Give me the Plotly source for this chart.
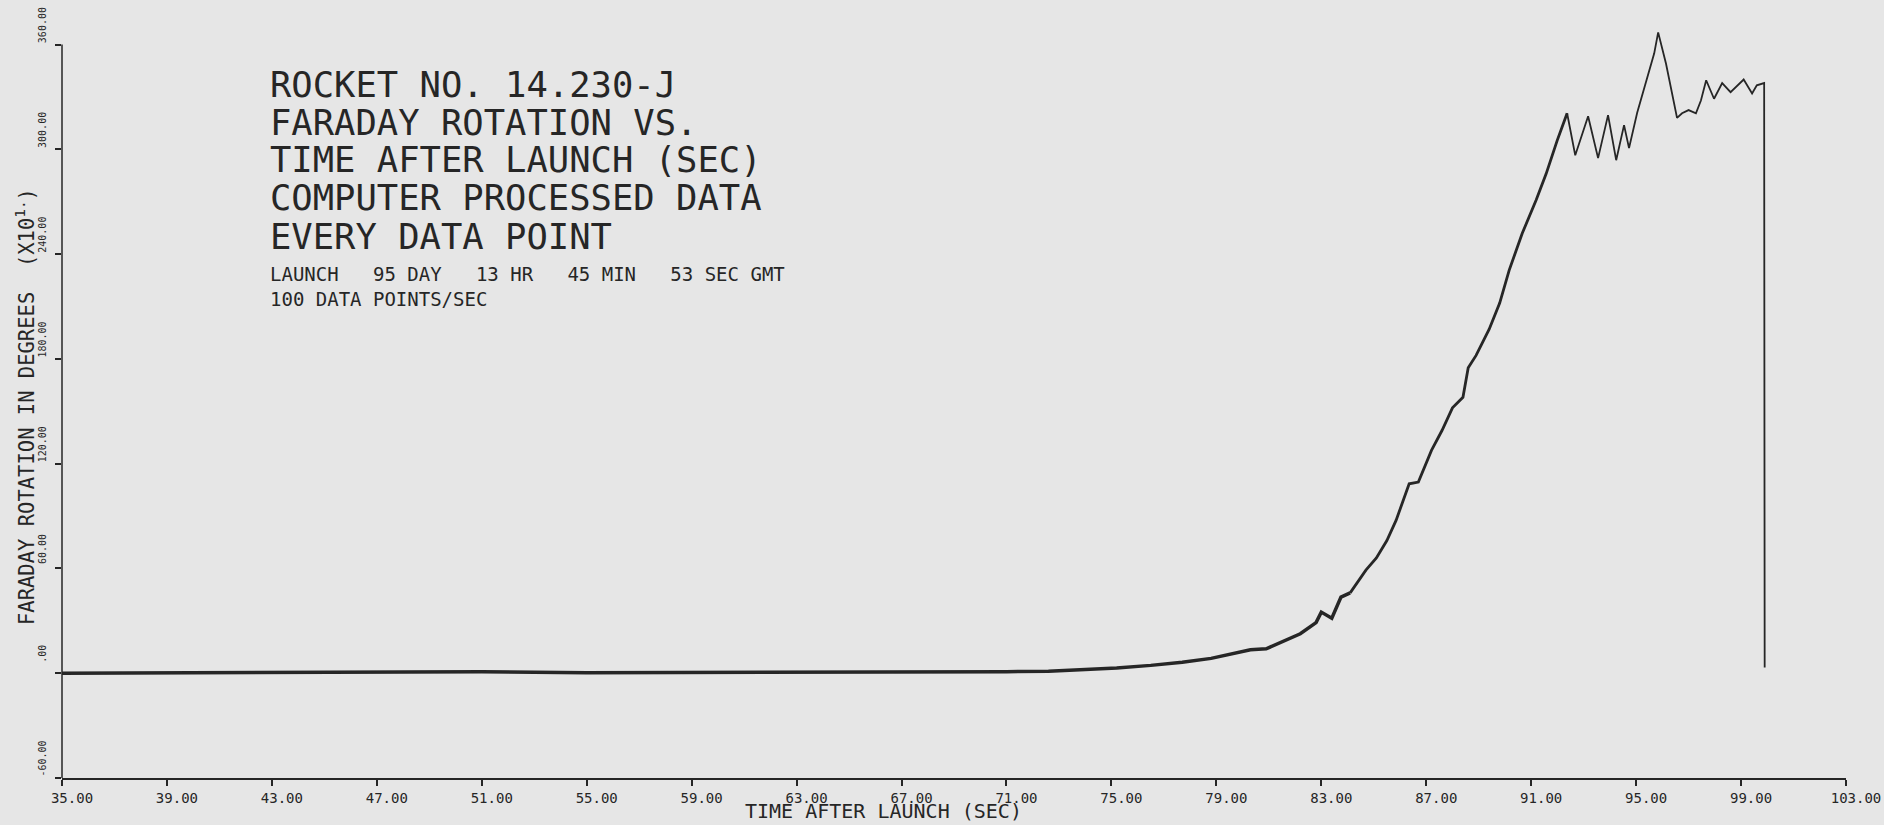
import plotly.graph_objs as go

# values
time_sec = [35.0, 39.0, 43.0, 47.0, 51.0, 55.0, 59.0, 63.0, 66.0, 68.8, 71.0, 72.6, 74.0, 75.2,
            76.5, 77.7, 78.8, 79.6, 80.3, 80.9, 81.5, 82.2, 82.8, 83.0, 83.4, 83.75, 84.1, 84.7,
            85.1, 85.5, 85.85, 86.35, 86.7, 87.2, 87.6, 88.0, 88.4, 88.6, 88.9, 89.4, 89.8, 90.16,
            90.66, 91.19, 91.57, 91.99, 92.37, 92.68, 93.17, 93.55, 93.93, 94.24, 94.54, 94.73,
            95.04, 95.38, 95.69, 95.84, 96.14, 96.56, 96.75, 97.0, 97.28, 97.47, 97.67, 97.97,
            98.28, 98.6, 99.1, 99.42, 99.6, 99.88, 99.9]
rotation = [0.0, 0.2, 0.1, 0.6, 0.8, 0.3, 0.4, 0.2, 0.5, 0.5, 0.9, 1.1, 2.0, 3.0,
            4.5, 6.3, 8.5, 11.0, 13.4, 14.0, 17.8, 22.6, 29.0, 35.0, 31.5, 43.6, 46.0, 59.0,
            66.0, 76.0, 87.5, 108.5, 109.5, 127.6, 139.0, 152.0, 158.0, 175.0, 182.0, 197.0, 212.0, 230.7,
            252.0, 271.0, 286.0, 305.0, 320.7, 296.6, 319.0, 295.0, 319.6, 293.8, 313.9, 300.7,
            321.0, 339.6, 355.0, 367.0, 349.0, 318.0, 320.7, 322.5, 320.7, 328.0, 339.6, 329.0,
            338.0, 332.8, 340.0, 332.0, 336.7, 338.0, 3.3]

x_ticks = [35, 39, 43, 47, 51, 55, 59, 63, 67, 71, 75, 79, 83, 87, 91, 95, 99, 103]
x_tick_labels = ['35.00', '39.00', '43.00', '47.00', '51.00', '55.00', '59.00', '63.00', '67.00',
                 '71.00', '75.00', '79.00', '83.00', '87.00', '91.00', '95.00', '99.00', '103.00']
y_ticks = [-60, 0, 60, 120, 180, 240, 300, 360]
y_tick_labels = ['-60.00', '.00', '60.00', '120.00', '180.00', '240.00', '300.00', '360.00']

header_big = ['ROCKET NO. 14.230-J', 'FARADAY ROTATION VS.', 'TIME AFTER LAUNCH (SEC)',
              'COMPUTER PROCESSED DATA', 'EVERY DATA POINT']
header_small = ['LAUNCH   95 DAY   13 HR   45 MIN   53 SEC GMT', '100 DATA POINTS/SEC']

FONT = 'DejaVu Sans Mono'
INK = '#262626'
PAPER = '#e6e6e6'

# plot area in pixels (reference): x 62..1846, y 24..778
def py(ypix):
    return (778 - ypix) / 754.0

def px(xpix):
    return (xpix - 62) / 1784.0

# split so the noisy early part draws as a thicker band
seg1 = [i for i, t in enumerate(time_sec) if t <= 84.1]
seg2 = [i for i, t in enumerate(time_sec) if 84.1 <= t <= 92.37]
seg3 = [i for i, t in enumerate(time_sec) if t >= 92.37]

fig = go.Figure()
for seg, w in [(seg1, 3.5), (seg2, 2.8), (seg3, 1.8)]:
    fig.add_trace(go.Scatter(
        x=[time_sec[i] for i in seg],
        y=[rotation[i] for i in seg],
        mode='lines',
        line=dict(color=INK, width=w),
        hoverinfo='x+y',
    ))

annotations = []
big_y = [84, 122, 159.5, 197, 236]
for txt, yp in zip(header_big, big_y):
    annotations.append(dict(text=txt.replace(' ', '\u00a0'), xref='paper', yref='paper',
                            x=px(268), y=py(yp), xanchor='left', yanchor='middle',
                            showarrow=False, font=dict(family=FONT, size=35.5, color=INK)))
small_y = [274, 299]
for txt, yp in zip(header_small, small_y):
    annotations.append(dict(text=txt.replace(' ', '\u00a0'), xref='paper', yref='paper',
                            x=px(268), y=py(yp), xanchor='left', yanchor='middle',
                            showarrow=False, font=dict(family=FONT, size=19, color=INK)))

# axis titles
annotations.append(dict(text='TIME AFTER LAUNCH (SEC)', xref='paper', yref='paper',
                        x=px(883), y=py(811), xanchor='center', yanchor='middle',
                        showarrow=False, font=dict(family=FONT, size=20, color=INK)))
annotations.append(dict(text='FARADAY ROTATION IN DEGREES\u00a0\u00a0(X10<sup>1.</sup>)',
                        xref='paper', yref='paper', textangle=-90,
                        x=px(25), y=py(407), xanchor='center', yanchor='middle',
                        showarrow=False, font=dict(family=FONT, size=20.5, color=INK)))

layout = dict(
    width=1884,
    height=825,
    showlegend=False,
    paper_bgcolor=PAPER,
    plot_bgcolor=PAPER,
    margin=dict(l=62, r=38, t=24, b=47, autoexpand=False),
    xaxis=dict(
        range=[35, 103],
        tickvals=x_ticks,
        ticktext=x_tick_labels,
        showgrid=False, zeroline=False,
        showline=True, linecolor=INK, linewidth=1.5,
        ticks='outside', ticklen=6, tickwidth=1.5, tickcolor=INK,
        ticklabelshift=10,
        tickfont=dict(family=FONT, size=14, color=INK),
    ),
    yaxis=dict(
        range=[-60, 371.8],
        tickvals=y_ticks,
        ticktext=y_tick_labels,
        showgrid=False, zeroline=False,
        showline=False,
        ticks='outside', ticklen=6, tickwidth=1.5, tickcolor=INK,
        tickangle=-90,
        ticklabelshift=-18,
        ticklabelstandoff=5,
        tickfont=dict(family=FONT, size=10, color=INK),
    ),
    shapes=[dict(type='line', xref='paper', yref='y', x0=0, x1=0, y0=-60, y1=360,
                 line=dict(color=INK, width=1.5))],
    annotations=annotations,
)

fig.update_layout(layout)

fig.write_html('out.html', config={'displayModeBar': False},
               post_script="document.body.style.margin='0px';document.body.style.background='%s';" % PAPER)
